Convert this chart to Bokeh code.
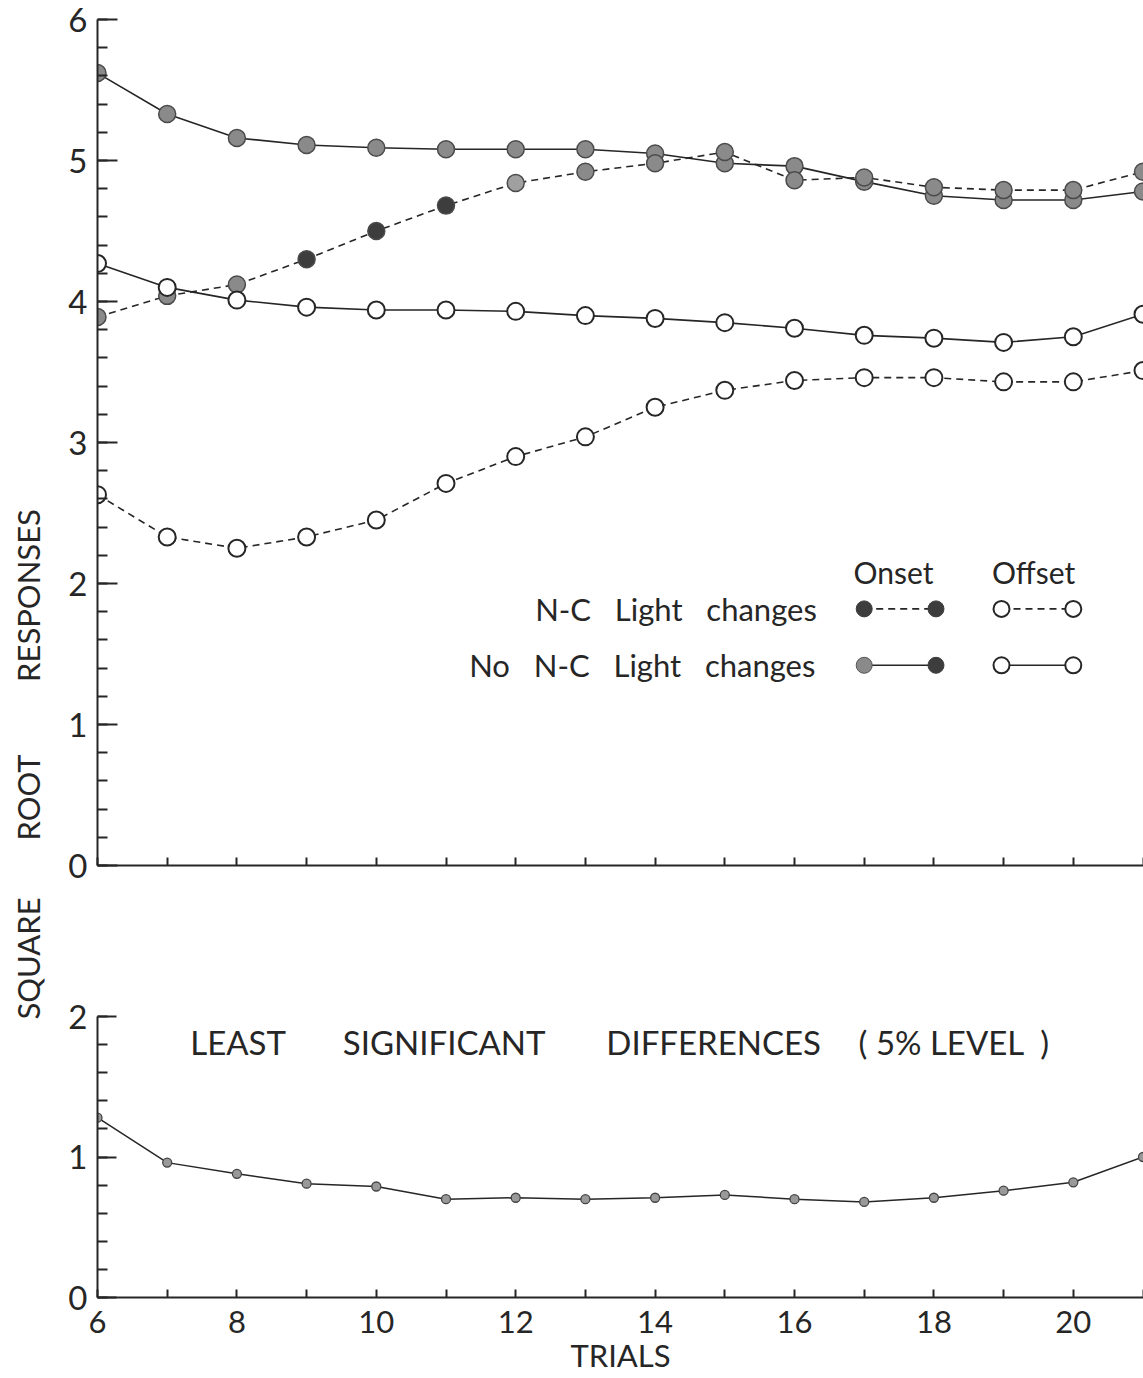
import numpy as np
from bokeh.plotting import figure
from bokeh.layouts import column, row
from bokeh.models import Range1d, FixedTicker, SingleIntervalTicker, Label, ColumnDataSource
from bokeh.embed import file_html
from bokeh.resources import INLINE
from bokeh.core.properties import value

# ---------------- data ----------------
trials = list(range(6, 22))
onset_nc = [3.89, 4.04, 4.12, 4.30, 4.50, 4.68, 4.84, 4.92, 4.98, 5.06, 4.86, 4.88, 4.81, 4.79, 4.79, 4.92]
onset_no_nc = [5.62, 5.33, 5.16, 5.11, 5.09, 5.08, 5.08, 5.08, 5.05, 4.98, 4.96, 4.85, 4.75, 4.72, 4.72, 4.78]
offset_nc = [2.63, 2.33, 2.25, 2.33, 2.45, 2.71, 2.90, 3.04, 3.25, 3.37, 3.44, 3.46, 3.46, 3.43, 3.43, 3.51]
offset_no_nc = [4.27, 4.10, 4.01, 3.96, 3.94, 3.94, 3.93, 3.90, 3.88, 3.85, 3.81, 3.76, 3.74, 3.71, 3.75, 3.91]
lsd = [1.28, 0.96, 0.88, 0.81, 0.79, 0.70, 0.71, 0.70, 0.71, 0.73, 0.70, 0.68, 0.71, 0.76, 0.82, 1.00]
x_tick_labels = {t: (str(t) if t % 2 == 0 else "") for t in trials}
y_title_words = ["RESPONSES", "ROOT", "SQUARE"]
NB = "\u00a0"
lsd_title_words = ["LEAST", "SIGNIFICANT", "DIFFERENCES", f"({NB}5%{NB}LEVEL{NB}{NB})"]
legend_rows = [f"N-C{NB*3}Light{NB*3}changes", f"No{NB*3}N-C{NB*3}Light{NB*3}changes"]

# ---------------- styles ----------------
FONT = "Lato"
INK = "#262626"
GRAY = "#8a8a8a"
DARK = "#3d3d3d"
LIGHT = "#a0a0a0"
onset_nc_fill = [GRAY, GRAY, GRAY, DARK, DARK, DARK, LIGHT] + [GRAY] * 9
PX_PER_TRIAL = 69.7
LAB_W = 58


def style_axes(p, major_in_y):
    for ax in (p.xaxis[0], p.yaxis[0]):
        ax.axis_line_color = INK
        ax.axis_line_width = 2
        ax.major_tick_line_color = INK
        ax.major_tick_line_width = 2
        ax.minor_tick_line_color = INK
        ax.minor_tick_line_width = 2
        ax.major_tick_out = 0
        ax.minor_tick_out = 0
        ax.major_label_text_font = FONT
        ax.major_label_text_color = INK
    p.yaxis[0].major_tick_in = major_in_y
    p.yaxis[0].minor_tick_in = 10
    p.yaxis[0].major_label_text_font_size = "33px"
    p.yaxis[0].major_label_standoff = 10
    p.xaxis[0].major_tick_in = 8
    p.xaxis[0].ticker = FixedTicker(ticks=trials)
    p.xgrid.visible = False
    p.ygrid.visible = False
    p.outline_line_color = None


# ---------------- vertical title strip ----------------
lab = figure(width=LAB_W, height=1378, x_range=Range1d(0, LAB_W), y_range=Range1d(1378, 0),
             x_axis_type=None, y_axis_type=None, output_backend="svg", toolbar_location=None,
             min_border=0, outline_line_color=None)
lab.grid.visible = False
lab.text(x=[27, 27, 27], y=[595, 797, 958], text=y_title_words, angle=np.pi / 2,
         text_align="center", text_baseline="middle", text_font=value(FONT),
         text_font_size="31px", text_color=INK)

# ---------------- top panel ----------------
p1 = figure(frame_width=1143 - 92, frame_height=846,
            x_range=Range1d(6, 6 + (1143 - 92) / PX_PER_TRIAL), y_range=Range1d(0, 6),
            output_backend="svg", toolbar_location=None,
            min_border_left=92 - LAB_W, min_border_right=0, min_border_top=19, min_border_bottom=40,
            background_fill_color="white", border_fill_color="white")
style_axes(p1, 20)
p1.yaxis[0].ticker = SingleIntervalTicker(interval=1, num_minor_ticks=5)
p1.xaxis[0].major_label_text_font_size = "1px"
p1.xaxis[0].major_label_text_color = None

src_nc = ColumnDataSource(dict(x=trials, y=onset_nc, fill=onset_nc_fill))

p1.line(trials, onset_no_nc, line_color=INK, line_width=1.6)
p1.line(trials, onset_nc, line_color=INK, line_width=1.6, line_dash="7 5")
p1.line(trials, offset_no_nc, line_color=INK, line_width=1.6)
p1.line(trials, offset_nc, line_color=INK, line_width=1.6, line_dash="7 5")

p1.scatter(trials, onset_no_nc, size=17, fill_color=GRAY, line_color="#4a4a4a", line_width=1.5)
p1.scatter("x", "y", source=src_nc, size=17, fill_color="fill", line_color="#4a4a4a", line_width=1.5)
p1.scatter(trials, offset_no_nc, size=17, fill_color="white", line_color=INK, line_width=2)
p1.scatter(trials, offset_nc, size=17, fill_color="white", line_color=INK, line_width=2)

# legend (drawn by hand to match the original's two-column key)
leg_on = [17.0, 18.03]
leg_off = [18.97, 20.0]
leg_y = [1.82, 1.42]
p1.line(leg_on, [leg_y[0]] * 2, line_color=INK, line_width=1.6, line_dash="7 5")
p1.line(leg_off, [leg_y[0]] * 2, line_color=INK, line_width=1.6, line_dash="7 5")
p1.line(leg_on, [leg_y[1]] * 2, line_color=INK, line_width=1.6)
p1.line(leg_off, [leg_y[1]] * 2, line_color=INK, line_width=1.6)
p1.scatter(leg_on, [leg_y[0]] * 2, size=16, fill_color=DARK, line_color=DARK)
p1.scatter(leg_on, [leg_y[1]] * 2, size=16, fill_color=[GRAY, DARK], line_color=["#555555", DARK])
p1.scatter(leg_off + leg_off, [leg_y[0]] * 2 + [leg_y[1]] * 2, size=16,
           fill_color="white", line_color=INK, line_width=2)

for txt, x, y, align, fs in [("Onset", 17.42, 2.08, "center", "30px"),
                             ("Offset", 19.43, 2.08, "center", "30px"),
                             (legend_rows[0], 16.32, 1.82, "right", "31px"),
                             (legend_rows[1], 16.3, 1.42, "right", "31px")]:
    p1.add_layout(Label(x=x, y=y, text=txt, text_align=align, text_baseline="middle",
                        text_font=FONT, text_font_size=fs, text_color=INK))

# ---------------- bottom panel ----------------
p2 = figure(frame_width=1143 - 97, frame_height=281,
            x_range=Range1d(6, 6 + (1143 - 97) / PX_PER_TRIAL), y_range=Range1d(0, 2),
            output_backend="svg", toolbar_location=None,
            min_border_left=97 - LAB_W, min_border_right=0, min_border_top=111, min_border_bottom=81,
            background_fill_color="white", border_fill_color="white")
style_axes(p2, 19)
p2.yaxis[0].ticker = SingleIntervalTicker(interval=1, num_minor_ticks=5)
p2.xaxis[0].major_label_overrides = x_tick_labels
p2.xaxis[0].major_label_text_font_size = "31px"
p2.xaxis[0].major_label_standoff = 13
p2.xaxis[0].axis_label = "TRIALS"
p2.xaxis[0].axis_label_text_font = FONT
p2.xaxis[0].axis_label_text_font_style = "normal"
p2.xaxis[0].axis_label_text_font_size = "31px"
p2.xaxis[0].axis_label_text_color = INK
p2.xaxis[0].axis_label_standoff = 0

p2.line(trials, lsd, line_color=INK, line_width=1.5)
p2.scatter(trials, lsd, size=9, fill_color="#999999", line_color="#444444", line_width=1.3)

for txt, x in zip(lsd_title_words, [7.33, 9.52, 13.30, 16.92]):
    p2.add_layout(Label(x=x, y=1.82, text=txt, text_align="left", text_baseline="middle",
                        text_font=FONT, text_font_size="33px", text_color=INK))

layout = row(lab, column(p1, p2, spacing=0), spacing=0)
open("out.html", "w").write(file_html(layout, INLINE))
